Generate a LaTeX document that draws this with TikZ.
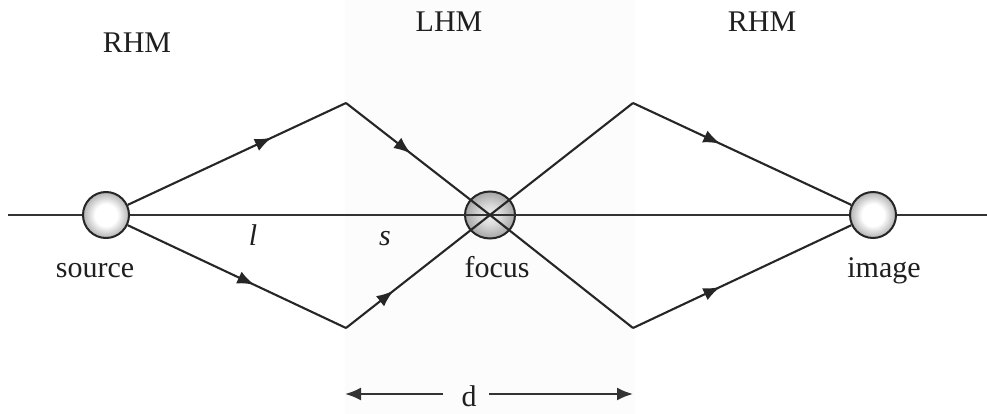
\documentclass[tikz,border=0pt]{standalone}
\usepackage{fontspec}
\setmainfont{Liberation Serif}
\usetikzlibrary{arrows.meta,decorations.markings,shapes.geometric}
\pgfdeclareradialshading{wball}{\pgfpoint{0bp}{0bp}}{color(0bp)=(white); color(12bp)=(white); color(25bp)=(black!30); color(35bp)=(black!58); color(100bp)=(black!58)}
\pgfdeclareradialshading{gball}{\pgfpoint{0bp}{0bp}}{color(0bp)=(black!6); color(10bp)=(black!14); color(25bp)=(black!35); color(35bp)=(black!60); color(100bp)=(black!60)}
\begin{document}
\begin{tikzpicture}[x=1pt,y=-1pt,
  ray/.style={line width=2.1pt, black!85},
  axisline/.style={line width=2pt, black!80},
  marr/.style={postaction={decorate}, decoration={markings, mark=at position #1 with {\arrow{Latex[length=17pt,width=13pt]}}}},
  ball/.style={circle, draw=black!85, line width=2pt, minimum size=46pt, inner sep=0pt, shading=wball},
  fball/.style={ellipse, draw=black!85, line width=2pt, minimum width=50pt, minimum height=47pt, inner sep=0pt, shading=gball},
  lbl/.style={anchor=base, font=\fontsize{30}{36}\selectfont, text=black!88, inner sep=0pt}
]
\useasboundingbox (0,0) rectangle (987,414);
\fill[black!1.2] (345,0) rectangle (635,414);

% balls
\node[ball] (src) at (106,215) {};
\node[fball] (foc) at (490,215) {};
\node[ball] (img) at (873,215) {};

% corner points
\coordinate (pu) at (346,103);
\coordinate (pd) at (346,328);
\coordinate (qu) at (633,103);
\coordinate (qd) at (633,328);
\coordinate (axL) at (8,215);
\coordinate (axR) at (987,215);

% axis
\draw[axisline] (axL) -- (src);
\draw[axisline] (src) -- (img);
\draw[axisline] (img) -- (axR);

% rays
\draw[ray, marr=0.66] (src) -- (pu);
\draw[ray, marr=0.45] (pu) -- (foc.center);
\draw[ray, marr=0.58] (src) -- (pd);
\draw[ray, marr=0.33] (pd) -- (foc.center);
\draw[ray] (foc.center) -- (qu);
\draw[ray, marr=0.4] (qu) -- (img);
\draw[ray] (foc.center) -- (qd);
\draw[ray, marr=0.4] (qd) -- (img);

% labels
\node[lbl] (rhm1) at (137,53) {RHM};
\node[lbl] (lhm) at (449,32) {LHM};
\node[lbl] (rhm2) at (762,32) {RHM};
\node[lbl] (tsrc) at (95,277) {source};
\node[lbl] (tfoc) at (497,277) {focus};
\node[lbl] (timg) at (884,277) {image};
\node[lbl] (tl) at (253,245) {\itshape l};
\node[lbl] (ts) at (385,245) {\itshape s};
\node[lbl] (td) at (469,406) {d};

% d arrows
\coordinate (dl1) at (443,394);
\coordinate (dl2) at (345,394);
\coordinate (dr1) at (489,394);
\coordinate (dr2) at (633,394);
\draw[axisline, -{Latex[length=16pt,width=13pt]}] (dl1) -- (dl2);
\draw[axisline, -{Latex[length=16pt,width=13pt]}] (dr1) -- (dr2);
\end{tikzpicture}
\end{document}
